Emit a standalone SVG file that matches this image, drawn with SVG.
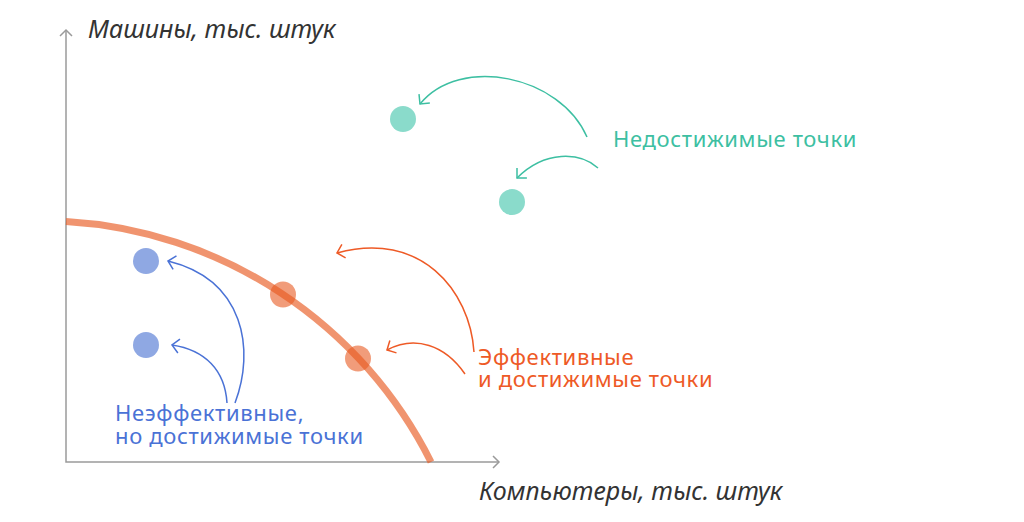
<svg xmlns="http://www.w3.org/2000/svg" width="1024" height="522" viewBox="0 0 1024 522">
<style>
.axis{stroke:#9a9a9a;stroke-width:1.5;fill:none}
.title{font-family:"Noto Sans","Open Sans",sans-serif;font-style:italic;font-size:25px;fill:#333}
.lbl{font-family:"Noto Sans","Open Sans",sans-serif;font-size:22px;letter-spacing:0.65px}
.teal{fill:#3dbfa2}
.blue{fill:#4a72d6}
.orange{fill:#ee5a26}
.conn{fill:none;stroke-width:1.5}
</style>
<defs>
<marker id="ah-teal" markerUnits="userSpaceOnUse" markerWidth="20" markerHeight="20" refX="0" refY="0" viewBox="-10 -10 20 20" orient="auto"><path d="M-7,-7 L0,0 L-7,7" fill="none" stroke="#3dbfa2" stroke-width="1.5"/></marker>
<marker id="ah-orange" markerUnits="userSpaceOnUse" markerWidth="20" markerHeight="20" refX="0" refY="0" viewBox="-10 -10 20 20" orient="auto"><path d="M-7,-7 L0,0 L-7,7" fill="none" stroke="#ee5a26" stroke-width="1.5"/></marker>
<marker id="ah-blue" markerUnits="userSpaceOnUse" markerWidth="20" markerHeight="20" refX="0" refY="0" viewBox="-10 -10 20 20" orient="auto"><path d="M-7,-7 L0,0 L-7,7" fill="none" stroke="#4a72d6" stroke-width="1.5"/></marker>
</defs>
<rect width="1024" height="522" fill="#fff"/>
<g id="axes">
<path class="axis" d="M66,30 V462 H499"/>
<path class="axis" d="M60,36 L66,30 L72,36"/>
<path class="axis" d="M493,456 L499,462 L493,468"/>
<text class="title" x="88" y="38">Машины, тыс. штук</text>
<text class="title" x="479" y="500">Компьютеры, тыс. штук</text>
</g>
<g id="frontier">
<path d="M66,221.5 A437,437 0 0 1 431,462" fill="none" stroke="#e85a22" stroke-opacity="0.65" stroke-width="7"/>
</g>
<g id="connectors">
<path class="conn" stroke="#3dbfa2" d="M587,137 C560,75 460,55 420,104" marker-end="url(#ah-teal)"/>
<path class="conn" stroke="#3dbfa2" d="M598,168 C580,152 545,150 517,178" marker-end="url(#ah-teal)"/>
<path class="conn" stroke="#ee5a26" d="M474,352 C470,290 420,230 337,253" marker-end="url(#ah-orange)"/>
<path class="conn" stroke="#ee5a26" d="M465,374 C445,345 415,335 387,350" marker-end="url(#ah-orange)"/>
<path class="conn" stroke="#4a72d6" d="M235,403 C255,350 245,280 168,261" marker-end="url(#ah-blue)"/>
<path class="conn" stroke="#4a72d6" d="M227,403 C225,370 205,350 172,345" marker-end="url(#ah-blue)"/>
</g>
<g id="unreachable-points">
<circle cx="403" cy="119" r="13" fill="#8adbcb"/>
<circle cx="512" cy="202" r="13" fill="#8adbcb"/>
</g>
<g id="efficient-points">
<circle cx="283" cy="294.5" r="13" fill="#e85a22" fill-opacity="0.6"/>
<circle cx="358" cy="358.5" r="13" fill="#e85a22" fill-opacity="0.6"/>
</g>
<g id="inefficient-points">
<circle cx="146" cy="261" r="13" fill="#8fa8e3"/>
<circle cx="146" cy="345" r="13" fill="#8fa8e3"/>
</g>
<g id="label-unreachable">
<text class="lbl teal" x="613" y="147">Недостижимые точки</text>
</g>
<g id="label-efficient">
<text class="lbl orange" x="478" y="365">Эффективные</text>
<text class="lbl orange" x="478" y="387">и достижимые точки</text>
</g>
<g id="label-inefficient">
<text class="lbl blue" x="115" y="421">Неэффективные,</text>
<text class="lbl blue" x="115" y="444">но достижимые точки</text>
</g>
</svg>
